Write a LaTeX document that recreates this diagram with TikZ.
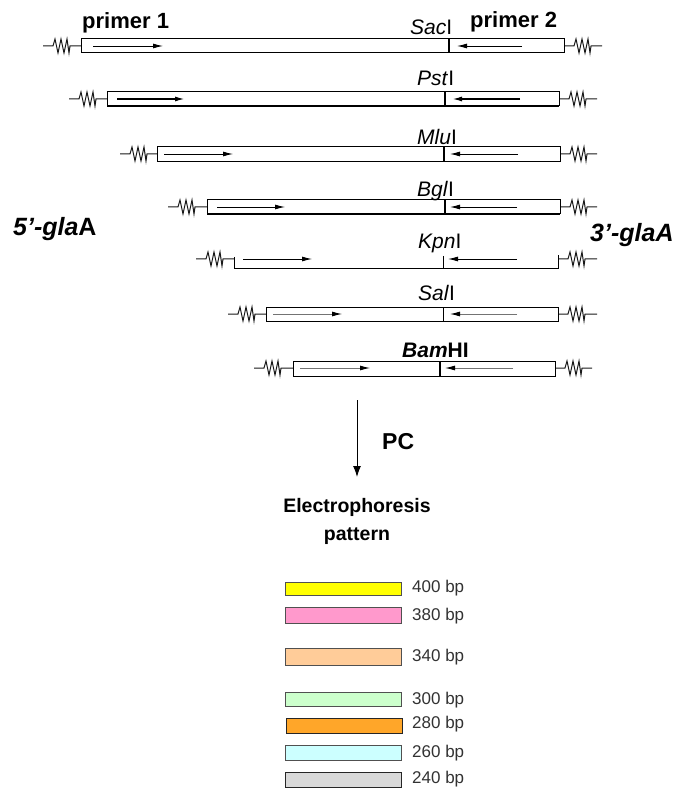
\documentclass[tikz,border=0pt]{standalone}
\usepackage{fontspec}
\setmainfont{Liberation Sans}
\usetikzlibrary{arrows.meta}
\definecolor{bandyellow}{RGB}{255,255,0}
\definecolor{bandpink}{RGB}{255,153,204}
\definecolor{bandpeach}{RGB}{255,204,153}
\definecolor{bandgreen}{RGB}{204,255,204}
\definecolor{bandorange}{RGB}{255,166,41}
\definecolor{bandcyan}{RGB}{204,255,255}
\definecolor{bandgray}{RGB}{217,217,217}
\definecolor{bandedge}{RGB}{80,80,80}
\definecolor{bptext}{RGB}{50,50,50}
\newcommand\spr[3]{\draw[sprline] (#1,#3) -- ++(10,0) -- ++(2,-7) -- ++(3,14) -- ++(3,-14) -- ++(3,14) -- ++(3,-14) -- ++(2,14) -- ++(1,-7) -- (#2,#3);}
\tikzset{
  sprline/.style={line width=1pt, black!90, line join=miter},
  dnabox/.style={draw, line width=1pt, fill=white},
  cutline/.style={line width=2.2pt},
  thincut/.style={line width=1pt},
  primarrow/.style={line width=0.9pt, -{Latex[length=10pt,width=5pt,color=black]}},
  enzlabel/.style={anchor=base west, inner sep=0pt, font=\fontsize{21}{25}\selectfont},
  primlabel/.style={anchor=base west, inner sep=0pt, font=\fontsize{22}{26}\selectfont\bfseries},
  endlabel/.style={anchor=base west, inner sep=0pt, font=\fontsize{25}{30}\selectfont\bfseries},
  band/.style={draw=bandedge, line width=1pt},
  bplabel/.style={anchor=west, inner sep=0pt, text=bptext, font=\fontsize{17}{20}\selectfont},
}
\begin{document}
\begin{tikzpicture}[x=1pt,y=-1pt]
\useasboundingbox (0,0) rectangle (678,791);
% labels top
\node[primlabel] (p1) at (82,29) {primer 1};
\node[primlabel] (p2) at (470,28) {primer 2};
% Row 1 SacI
\spr{43}{81}{46}
\spr{564}{602}{46}
\draw[dnabox] (81,39) rectangle (564,53);
\draw[cutline] (449,39) -- (449,53);
\draw[primarrow] (93,46) -- (163,46);
\draw[primarrow] (522,46) -- (457,46);
\node[enzlabel] (sac) at (410,35) {\textit{Sac}I};
% Row 2 PstI
\spr{69}{107}{99}
\spr{559}{597}{99}
\draw[dnabox] (107,92) rectangle (559,106);
\draw[line width=2pt] (107,106) -- (559,106);
\draw[cutline] (445,92) -- (445,106);
\draw[primarrow, line width=1.6pt] (117,99) -- (185,99);
\draw[primarrow, line width=1.6pt] (520,99) -- (452,99);
\node[enzlabel] (pst) at (417,86) {\textit{Pst}I};
% Row 3 MluI
\spr{120}{157}{154}
\spr{560}{597}{154}
\draw[dnabox] (157,147) rectangle (560,162);
\draw[cutline] (444,147) -- (444,162);
\draw[primarrow] (164,154) -- (233,154);
\draw[primarrow] (518,154) -- (450,154);
\node[enzlabel] (mlu) at (417,145) {\textit{Mlu}I};
% Row 4 BglI
\spr{168}{207}{207}
\spr{560}{597}{207}
\draw[dnabox] (207,200) rectangle (560,214);
\draw[line width=2pt] (207,214) -- (560,214);
\draw[cutline] (445,200) -- (445,214);
\draw[primarrow] (217,207) -- (285,207);
\draw[primarrow] (517,207) -- (450,207);
\node[enzlabel] (bgl) at (417,197) {\textit{Bgl}I};
% Row 5 KpnI
\spr{196}{234}{259}
\spr{558}{597}{259}
\draw[line width=1pt] (234,257) -- (234,268) -- (558,268) -- (558,255);
\draw[thincut] (443,256) -- (443,268);
\draw[primarrow] (243,259) -- (312,259);
\draw[primarrow] (517,259) -- (448,259);
\node[enzlabel] (kpn) at (418,248) {\textit{Kpn}I};
% Row 6 SalI
\spr{228}{266}{314}
\spr{558}{597}{314}
\draw[dnabox] (266,307) rectangle (558,321);
\draw[thincut] (443,307) -- (443,321);
\draw[primarrow, black!55] (273,314) -- (342,314);
\draw[primarrow, black!55] (517,314) -- (450,314);
\node[enzlabel] (sal) at (418,300) {\textit{Sal}I};
% Row 7 BamHI
\spr{254}{293}{368}
\spr{555}{592}{368}
\draw[dnabox] (293,361) rectangle (555,376);
\draw[cutline] (440,361) -- (440,376);
\draw[primarrow, black!55] (300,368) -- (370,368);
\draw[primarrow, black!55] (513,368) -- (445,368);
\node[enzlabel, font=\fontsize{21}{25}\selectfont\bfseries] (bam) at (402,357) {\textit{Bam}HI};
% end labels
\node[endlabel] (five) at (13,236) {\textit{5’-gla}A};
\node[endlabel] (three) at (590,242) {\textit{3’-glaA}};
% PC arrow
\coordinate (pcs) at (357,400);
\coordinate (pce) at (357,477);
\draw[line width=1pt, -{Latex[length=11pt,width=8pt]}] (pcs) -- (pce);
\node[anchor=base west, inner sep=0pt, font=\fontsize{23}{27}\selectfont\bfseries] (pc) at (382,449) {PC};
\node[anchor=base, inner sep=0pt, font=\fontsize{19.5}{23}\selectfont\bfseries] (elec) at (357,512) {Electrophoresis};
\node[anchor=base, inner sep=0pt, font=\fontsize{19.5}{23}\selectfont\bfseries] (patt) at (357,540) {pattern};
% bands
\draw[band, fill=bandyellow] (285,582) rectangle (401,595);
\draw[band, fill=bandpink] (285,607) rectangle (401,623);
\draw[band, fill=bandpeach] (285,648) rectangle (401,665);
\draw[band, fill=bandgreen] (285,692) rectangle (401,706);
\draw[band, draw=black!85, fill=bandorange] (286,718) rectangle (402,733);
\draw[band, fill=bandcyan] (285,745) rectangle (401,760);
\draw[band, draw=black!85, fill=bandgray] (285,772) rectangle (401,787);
\node[bplabel] (b400) at (412,588) {400 bp};
\node[bplabel] (b380) at (412,616) {380 bp};
\node[bplabel] (b340) at (412,657) {340 bp};
\node[bplabel] (b300) at (412,700) {300 bp};
\node[bplabel] (b280) at (412,724) {280 bp};
\node[bplabel] (b260) at (412,753) {260 bp};
\node[bplabel] (b240) at (412,779) {240 bp};
\end{tikzpicture}
\end{document}
